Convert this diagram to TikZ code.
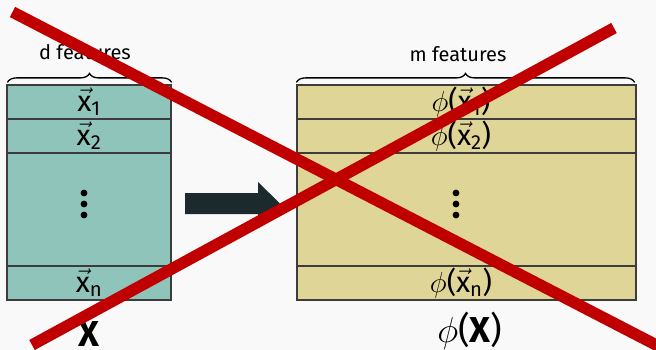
\documentclass[tikz,border=0pt]{standalone}
\usepackage{fix-cm}
\usepackage{amsmath}
\usepackage{fontspec}
\setmainfont{Fira Sans}
\usetikzlibrary{decorations.pathreplacing}
\definecolor{bgcol}{HTML}{F9F9F9}
\definecolor{leftfill}{HTML}{8FC4BA}
\definecolor{rightfill}{HTML}{DFD596}
\definecolor{edgecol}{HTML}{3C3C3C}
\definecolor{arrowcol}{HTML}{1C2A2E}
\definecolor{crosscol}{HTML}{C00000}
\tikzset{
  rowbox/.style={draw=edgecol, line width=1.2pt, minimum height=34pt,
    inner sep=0pt, font=\fontsize{29}{31}\selectfont},
  leftrow/.style={rowbox, fill=leftfill, minimum width=164pt},
  rightrow/.style={rowbox, fill=rightfill, minimum width=339pt},
  featbrace/.style={draw=black, line width=1.3pt,
    decorate, decoration={brace, amplitude=9pt}},
  featlabel/.style={font=\fontsize{20}{22}\selectfont, anchor=base},
  biglabel/.style={font=\fontsize{36}{40}\selectfont, anchor=base},
  dotmark/.style={fill=black, draw=none},
  blockarrow/.style={fill=arrowcol, draw=none},
  crossline/.style={draw=crosscol, line width=11.5pt, line cap=butt}
}
% row text of the feature matrix, set a little left of centre
\newcommand{\featrow}[1]{\(\phi\)(\(\vec{\text{x}}_{\text{#1}}\))\hspace*{11pt}}
\begin{document}
\begin{tikzpicture}[x=1pt, y=-1pt]
  % page background
  \fill[bgcol] (0,0) rectangle (656,350);
  \useasboundingbox (0,0) rectangle (656,350);

  % input matrix rows
  \node[leftrow] (l1) at (89,102) {\(\vec{\text{x}}_{\text{1}}\)};
  \node[leftrow] (l2) at (89,136) {\(\vec{\text{x}}_{\text{2}}\)};
  \node[leftrow, minimum height=113pt] (lm) at (89,209.5) {};
  \node[leftrow] (ln) at (89,283) {\(\vec{\text{x}}_{\text{n}}\)};

  % feature matrix rows
  \node[rightrow] (r1) at (466.5,102) {\featrow{1}};
  \node[rightrow] (r2) at (466.5,136) {\featrow{2}};
  \node[rightrow, minimum height=113pt] (rm) at (466.5,209.5) {};
  \node[rightrow] (rn) at (466.5,283) {\featrow{n}};

  % vertical ellipses
  \foreach \yy in {193,204,215} {
    \fill[dotmark] (84,\yy) circle (3.4pt);
    \fill[dotmark] (456,\yy) circle (3.4pt);
  }

  % braces and their labels
  \draw[featbrace] ([shift={(1,-2)}]l1.north west) coordinate (lb1) -- ([shift={(0,-2)}]l1.north east) coordinate (lb2);
  \node[featlabel] (dlab) at (85,60) {d features};
  \draw[featbrace] ([shift={(0,-2)}]r1.north west) coordinate (rb1) -- ([shift={(-2,-2)}]r1.north east) coordinate (rb2);
  \node[featlabel] (mlab) at (458,62) {m features};

  % matrix names
  \node[biglabel] (xlab) at (89,346) {\textbf{X}};
  \node[biglabel] (philab) at (470,342) {\(\phi\)(\textbf{X})};

  % block arrow between the matrices
  \coordinate (a0) at (185,203.5);
  \fill[blockarrow] (a0) ++(0,-10.5) -- ++(73,0) -- ++(0,-11) -- (280,203.5)
    -- (258,225) -- ++(0,-11) -- ++(-73,0) -- cycle;

  % crossing-out lines
  \coordinate (c1a) at (12.5,12);
  \coordinate (c1b) at (662,348);
  \coordinate (c2a) at (32,345);
  \coordinate (c2b) at (614,28);
  \draw[crossline] (c1a) -- (c1b);
  \draw[crossline] (c2a) -- (c2b);
\end{tikzpicture}
\end{document}
